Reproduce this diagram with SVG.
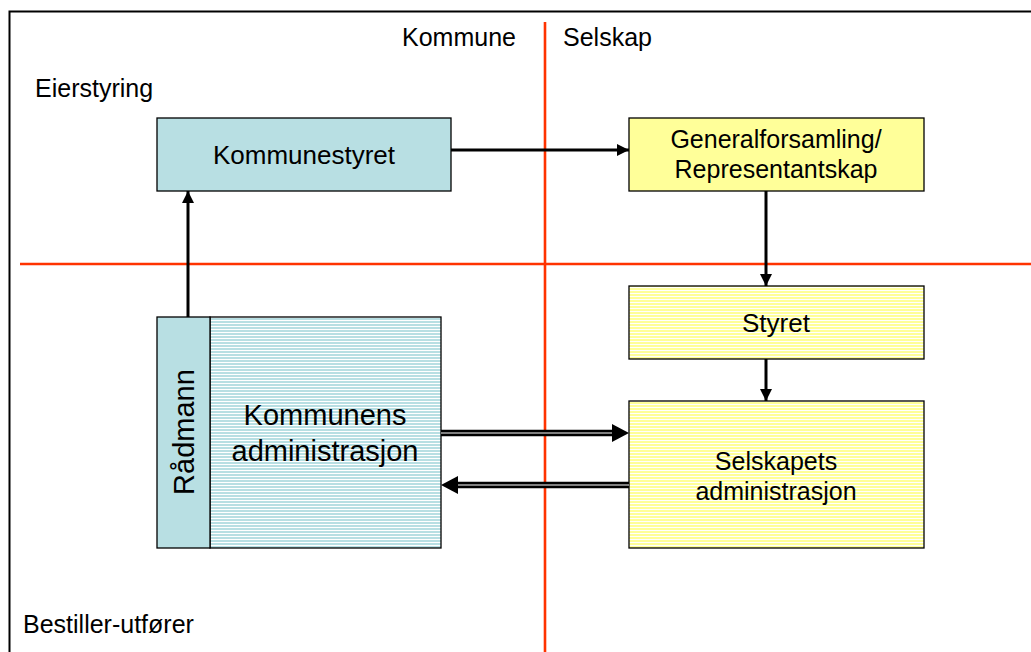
<svg xmlns="http://www.w3.org/2000/svg" width="1031" height="652" viewBox="0 0 1031 652">
<defs>
<style>
text{font-family:"Liberation Sans",Arial,sans-serif;fill:#000}
.t25{font-size:25px}
.t26{font-size:26px}
.t29{font-size:29px}
.box{stroke:#000;stroke-width:1.3}
.red{stroke:#FF3300;stroke-width:2.6;fill:none}
.arr{stroke:#000;stroke-width:3;fill:none}
</style>
<pattern id="pBlue" width="4" height="3" patternUnits="userSpaceOnUse">
<rect width="4" height="3" fill="#B8DFE3"/>
<rect y="2" width="4" height="1" fill="#FFFFFF"/>
</pattern>
<pattern id="pYel" width="4" height="3" patternUnits="userSpaceOnUse">
<rect width="4" height="3" fill="#FFFF99"/>
<rect y="2" width="4" height="1" fill="#FFFFFF"/>
</pattern>
<marker id="ah" markerWidth="4" markerHeight="4" refX="4" refY="2" orient="auto" markerUnits="strokeWidth">
<path d="M0,0 L4,2 L0,4 Z" fill="#000"/>
</marker>
</defs>
<rect width="1031" height="652" fill="#FFFFFF"/>
<rect x="9.5" y="11.5" width="1040" height="660" fill="none" stroke="#000" stroke-width="2"/>
<g id="dividers">
<line class="red" x1="545" y1="22" x2="545" y2="652"/>
<line class="red" x1="20" y1="264" x2="1031" y2="264"/>
</g>
<g id="labels">
<text class="t25" x="402" y="46">Kommune</text>
<text class="t25" x="563" y="46">Selskap</text>
<text class="t25" x="35" y="97">Eierstyring</text>
<text class="t25" x="23" y="633">Bestiller-utfører</text>
</g>
<g id="kommunestyret">
<rect class="box" x="157" y="118" width="294" height="73" fill="#B8DFE3"/>
<text class="t26" x="304" y="164" text-anchor="middle">Kommunestyret</text>
</g>
<g id="generalforsamling">
<rect class="box" x="629" y="118" width="295" height="73" fill="#FFFF99"/>
<text class="t25" x="776" y="148" text-anchor="middle">Generalforsamling/</text>
<text class="t25" x="776" y="178" text-anchor="middle">Representantskap</text>
</g>
<g id="styret">
<rect class="box" x="629" y="286" width="295" height="73" fill="url(#pYel)"/>
<text class="t26" x="776" y="332" text-anchor="middle">Styret</text>
</g>
<g id="selskapets-administrasjon">
<rect class="box" x="629" y="401" width="295" height="147" fill="url(#pYel)"/>
<text class="t25" x="776" y="470" text-anchor="middle">Selskapets</text>
<text class="t25" x="776" y="500" text-anchor="middle">administrasjon</text>
</g>
<g id="kommunens-administrasjon">
<rect class="box" x="210" y="317" width="231" height="231" fill="url(#pBlue)"/>
<text class="t29" x="325" y="425" text-anchor="middle">Kommunens</text>
<text class="t29" x="325" y="461" text-anchor="middle">administrasjon</text>
</g>
<g id="radmann">
<rect class="box" x="157" y="317" width="53" height="231" fill="#B8DFE3"/>
<text class="t29" transform="translate(194,432) rotate(-90)" text-anchor="middle">Rådmann</text>
</g>
<g id="connectors">
<line class="arr" x1="451" y1="150" x2="629" y2="150" marker-end="url(#ah)"/>
<line class="arr" x1="766" y1="191" x2="766" y2="286" marker-end="url(#ah)"/>
<line class="arr" x1="766" y1="359" x2="766" y2="401" marker-end="url(#ah)"/>
<line class="arr" x1="188" y1="317" x2="188" y2="191" marker-end="url(#ah)"/>
<line x1="441" y1="433" x2="614" y2="433" stroke="#000" stroke-width="6.5"/>
<line x1="441" y1="433" x2="614" y2="433" stroke="#AAAAAA" stroke-width="1.5"/>
<path d="M612,424 L629,433 L612,442 Z" fill="#000"/>
<line x1="456" y1="485" x2="629" y2="485" stroke="#000" stroke-width="6.5"/>
<line x1="456" y1="485" x2="629" y2="485" stroke="#AAAAAA" stroke-width="1.5"/>
<path d="M458,476 L441,485 L458,494 Z" fill="#000"/>
</g>
</svg>
